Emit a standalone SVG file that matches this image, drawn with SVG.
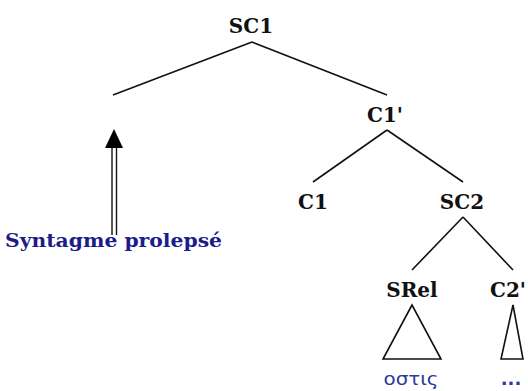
<svg xmlns="http://www.w3.org/2000/svg" width="528" height="391" viewBox="0 0 528 391">
<style>
.lbl{font-family:'DejaVu Serif','Liberation Serif',serif;font-weight:700;font-size:20px;fill:#111;text-anchor:middle}
.edge{stroke:#111;stroke-width:1.6;fill:none}
.tri{stroke:#111;stroke-width:1.6;fill:#fff}
.pro{font-family:'DejaVu Serif','Liberation Serif',serif;font-weight:700;font-size:18px;fill:#1c1c8a}
.gr{font-family:'DejaVu Sans','Noto Sans',sans-serif;font-size:18px;fill:#2a3a9a;text-anchor:middle}
</style>
<rect width="528" height="391" fill="#fff"/>
<g id="connectors">
<line class="edge" x1="252" y1="42" x2="113" y2="95"/>
<line class="edge" x1="252" y1="42" x2="387" y2="95"/>
<line class="edge" x1="387" y1="130" x2="313" y2="182"/>
<line class="edge" x1="387" y1="130" x2="463" y2="182"/>
<line class="edge" x1="463" y1="217" x2="412" y2="270"/>
<line class="edge" x1="463" y1="217" x2="513" y2="270"/>
<line stroke="#111" stroke-width="1.4" x1="112" y1="146" x2="112" y2="235"/>
<line stroke="#111" stroke-width="1.4" x1="116.5" y1="146" x2="116.5" y2="235"/>
<polygon points="114,129 105,148 123,148" fill="#000"/>
</g>
<g id="SC1"><text class="lbl" x="251" y="33">SC1</text></g>
<g id="C1p"><text class="lbl" x="385" y="122">C1'</text></g>
<g id="C1"><text class="lbl" x="313" y="209">C1</text></g>
<g id="SC2"><text class="lbl" x="462" y="209">SC2</text></g>
<g id="SRel"><text class="lbl" x="412" y="297">SRel</text>
<polygon class="tri" points="412,305 383,359 441,359"/>
<text class="gr" x="411" y="385" textLength="55" lengthAdjust="spacingAndGlyphs">οστις</text></g>
<g id="C2p"><text class="lbl" x="526" y="297" style="text-anchor:end">C2'</text>
<polygon class="tri" points="513,305 501,359 523,359"/>
<text class="gr" x="511" y="385" font-weight="bold">...</text></g>
<g id="prolepse"><text class="pro" x="5" y="247" textLength="217" lengthAdjust="spacingAndGlyphs">Syntagme prolepsé</text></g>
</svg>
